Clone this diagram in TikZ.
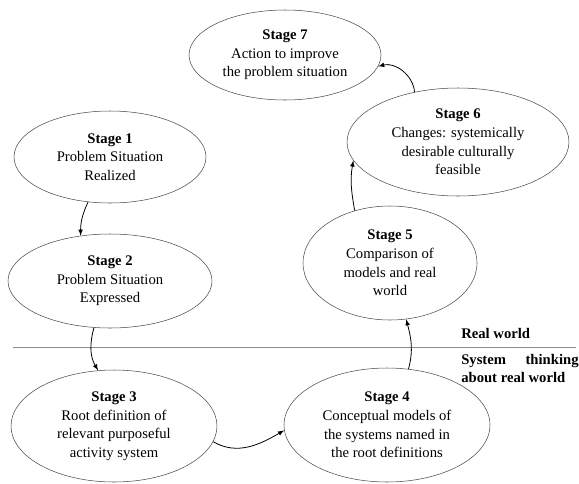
\documentclass[tikz,border=0pt]{standalone}
\usepackage{fontspec}
\setmainfont{Liberation Serif}
\usetikzlibrary{shapes.geometric}
\begin{document}
\begin{tikzpicture}[x=.75pt,y=-.75pt,
	stage/.style={ellipse,draw=black!70,thin,inner sep=0pt,align=center,font=\fontsize{11pt}{13.9pt}\selectfont},
	side/.style={inner sep=0pt,font=\bfseries\fontsize{11pt}{13.9pt}\selectfont},
	flow/.style={->,>=latex,semithick}]
		\useasboundingbox (0,0) rectangle (579,483);
		
		\node[stage,minimum width=144pt,minimum height=67.5pt] (s7) at (285,55) {\textbf{Stage 7}\\Action to improve\\the problem situation};
		\node[stage,minimum width=166.5pt,minimum height=81pt] (s6) at (458,142) {\textbf{Stage 6}\\Changes: systemically\\desirable culturally\\feasible};
		\node[stage,minimum width=144pt,minimum height=69pt] (s1) at (110,157) {\textbf{Stage 1}\\Problem Situation\\Realized};
		\node[stage,minimum width=153pt,minimum height=70.5pt] (s2) at (110,281) {\textbf{Stage 2}\\Problem Situation\\Expressed};
		\node[stage,minimum width=130.5pt,minimum height=85.5pt] (s5) at (390,263) {\textbf{Stage 5}\\Comparison of\\models and real\\world};
		\node[stage,minimum width=154.5pt,minimum height=84pt] (s3) at (114,426) {\textbf{Stage 3}\\Root definition of\\relevant purposeful\\activity system};
		\node[stage,minimum width=154.5pt,minimum height=85.5pt] (s4) at (387,425) {\textbf{Stage 4}\\Conceptual models of\\the systems named in\\the root definitions};
		
		\draw[black!45] (13,347) -- (576,347);
		\node[side,anchor=west] (real) at (461,333) {Real world};
		\node[side,anchor=north west,text width=88pt,align=justify] (think) at (461,354) {System thinking about real world};
		
		\draw[flow] (s1.244) to[out=-115,in=90] (s2.123);
		\draw[flow] (s2.251) to[out=-105,in=120] (s3.106);
		\draw[flow] (s3.351) to[out=-30,in=210] (s4.183);
		\draw[flow] (s4.69) to[out=75,in=-75] (s5.286);
		\draw[flow] (s5.124) to[out=100,in=260] (s6.190);
		\draw[flow] (s6.131) to[out=95,in=15] (s7.353);
\end{tikzpicture}
\end{document}
